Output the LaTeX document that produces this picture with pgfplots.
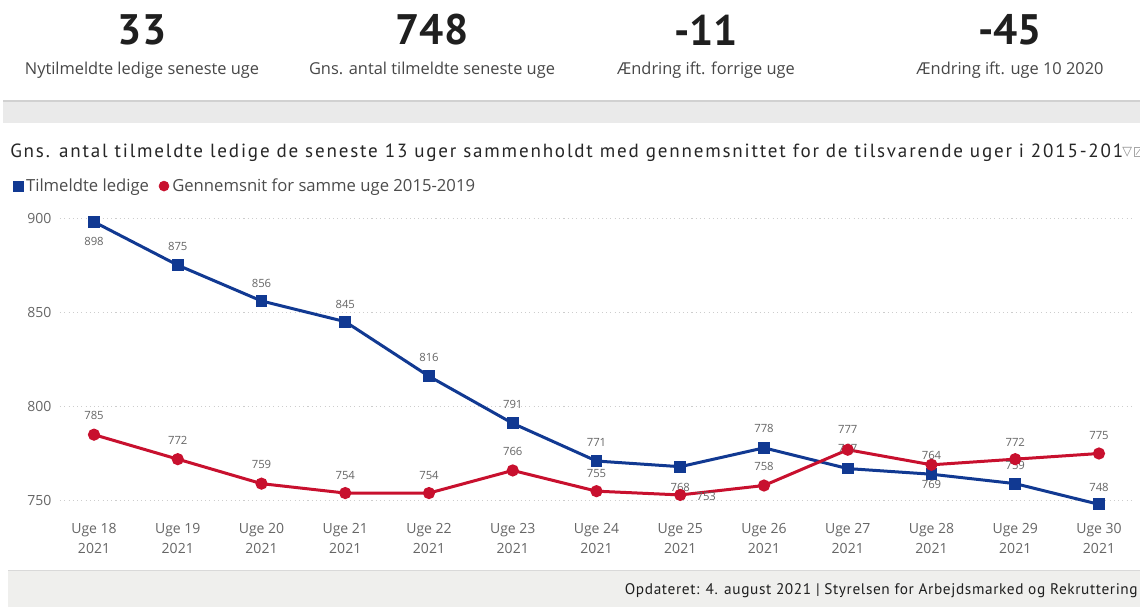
\documentclass[border=0pt]{standalone}
\usepackage{fontspec}
\usepackage{pgfplots}
\pgfplotsset{compat=1.18}
\setmainfont{Open Sans}
\newfontfamily\din[LetterSpace=9.5]{PT Sans}
\newfontfamily\dinfoot[LetterSpace=4]{PT Sans}
\newfontfamily\kpifont{PT Sans}
\newfontfamily\sym{DejaVu Sans}

\definecolor{pbblue}{RGB}{17,57,146}
\definecolor{pbred}{RGB}{200,16,46}
\definecolor{tickgray}{RGB}{102,102,102}
\definecolor{band}{RGB}{234,234,234}
\definecolor{foot}{RGB}{239,239,237}
\definecolor{gridgray}{RGB}{205,205,205}

\pgfplotsset{
  labelled/.style={
    visualization depends on={\thisrow{dx} \as \lx},
    visualization depends on={\thisrow{dy} \as \ly},
    nodes near coords,
    point meta=y,
    every node near coord/.append style={anchor=center, xshift={0.75pt*\lx}, yshift={0.75pt*\ly},
      font=\fontsize{8.5}{10}\selectfont, text=tickgray, inner sep=0pt},
  }
}

\begin{document}
\begin{tikzpicture}
\useasboundingbox (0,0) rectangle (855pt,-455.25pt);
\fill[white] (0,0) rectangle (855pt,-455.25pt);
% separator band
\fill[band] (2.25pt,-75pt) rectangle (855pt,-92.25pt);
\fill[black!18] (2.25pt,-75pt) rectangle (855pt,-76.2pt);
% footer band
\fill[foot] (6pt,-427.5pt) rectangle (855pt,-455.25pt);
\fill[black!15] (6pt,-427.5pt) rectangle (855pt,-428.5pt);

% KPI cards
\foreach \v/\t/\cx in {33/Nytilmeldte ledige seneste uge/106.5, 748/Gns. antal tilmeldte seneste uge/324, -11/Ændring ift. forrige uge/529.5, -45/Ændring ift. uge 10 2020/757.5}{
  \node[font=\kpifont\bfseries\fontsize{32}{32}\selectfont, text=black!88, inner sep=0pt] at (\cx pt,-22.5pt) {\v};
  \node[font=\fontsize{12.3}{14}\selectfont, text=black!72, inner sep=0pt] at (\cx pt,-52.5pt) {\t};
}

% title
\begin{scope}
\clip (0pt,-100pt) rectangle (842pt,-125pt);
\node[anchor=west, font=\din\fontsize{14.3}{16}\selectfont, text=black!85, inner sep=0pt] at (7.5pt,-114.5pt)
  {Gns. antal tilmeldte ledige de seneste 13 uger sammenholdt med gennemsnittet for de tilsvarende uger i 2015-2019};
\end{scope}
\node[font=\sym\fontsize{9.5}{9.5}\selectfont, text=black!45, inner sep=0pt] at (845.5pt,-114pt) {▽};
\begin{scope}
\clip (849.5pt,-105pt) rectangle (855pt,-125pt);
\draw[black!35, line width=0.5pt] (850.5pt,-110.5pt) rectangle (858pt,-117.5pt);
\draw[black!35, line width=0.5pt] (852pt,-116pt) -- (855pt,-112pt);
\end{scope}

% footer text
\node[anchor=east, font=\dinfoot\fontsize{11.5}{13}\selectfont, text=black!88, inner sep=0pt] at (853.5pt,-443.25pt)
  {Opdateret: 4. august 2021 | Styrelsen for Arbejdsmarked og Rekruttering};

\begin{axis}[
  at={(45pt,-382.5pt)}, anchor=south west,
  scale only axis, width=806.25pt, height=226pt,
  xmin=-0.406, xmax=12.43, ymin=745, ymax=905,
  axis line style={draw=none},
  tick style={draw=none},
  ymajorgrids,
  major grid style={gridgray, line width=0.8pt, dash pattern=on 0.8pt off 2.4pt},
  ytick={750,800,850,900},
  xtick={0,...,12},
  xticklabels={{Uge 18\\2021},{Uge 19\\2021},{Uge 20\\2021},{Uge 21\\2021},{Uge 22\\2021},{Uge 23\\2021},{Uge 24\\2021},{Uge 25\\2021},{Uge 26\\2021},{Uge 27\\2021},{Uge 28\\2021},{Uge 29\\2021},{Uge 30\\2021}},
  xticklabel style={align=center, font=\fontsize{10.5}{15}\selectfont, text=tickgray, anchor=north, yshift=-6.5pt},
  yticklabel style={font=\fontsize{10.5}{12}\selectfont, text=tickgray, anchor=east, xshift=-3pt},
  /pgf/number format/assume math mode=true,
  legend columns=-1,
  legend style={at={(-0.0447,1.075)}, anchor=west, draw=none, fill=none,
    font=\fontsize{12.5}{15}\selectfont, text=black!70, inner sep=0pt,
    /tikz/every even column/.append style={column sep=5pt},
    /tikz/every odd column/.append style={column sep=0pt}},
  legend image code/.code={\path (0pt,0pt) (8pt,0pt); \draw[#1] plot coordinates {(4pt,0pt)};},
]
\addlegendimage{only marks, mark=square*, pbblue, mark size=3.75pt}
\addlegendentry{Tilmeldte ledige}
\addlegendimage{only marks, mark=*, pbred, mark size=3.75pt}
\addlegendentry{Gennemsnit for samme uge 2015-2019}

% Tilmeldte ledige (dx, dy: label offset in reference px)
\addplot[forget plot, labelled, pbblue, line width=2.25pt, mark=square*, mark size=3.3pt, mark options={solid}] table[x=x, y=y] {
x y dx dy
0 898 0 -20
1 875 0 19
2 856 0 18
3 845 0 17
4 816 0 19
5 791 0 19
6 771 0 19
7 768 0 -21
8 778 0 19
9 767 0 20
10 764 0 19
11 759 0 18
12 748 0 17
};
% Gennemsnit for samme uge 2015-2019
\addplot[forget plot, labelled, pbred, line width=2.25pt, mark=*, mark size=3.4pt, mark options={solid}] table[x=x, y=y] {
x y dx dy
0 785 0 19
1 772 0 19
2 759 0 19
3 754 0 18
4 754 0 18
5 766 0 19
6 755 0 18
7 753 26 -2
8 758 0 19
9 777 0 20
10 769 0 -20
11 772 0 17
12 775 0 18
};
\end{axis}
\end{tikzpicture}
\end{document}
